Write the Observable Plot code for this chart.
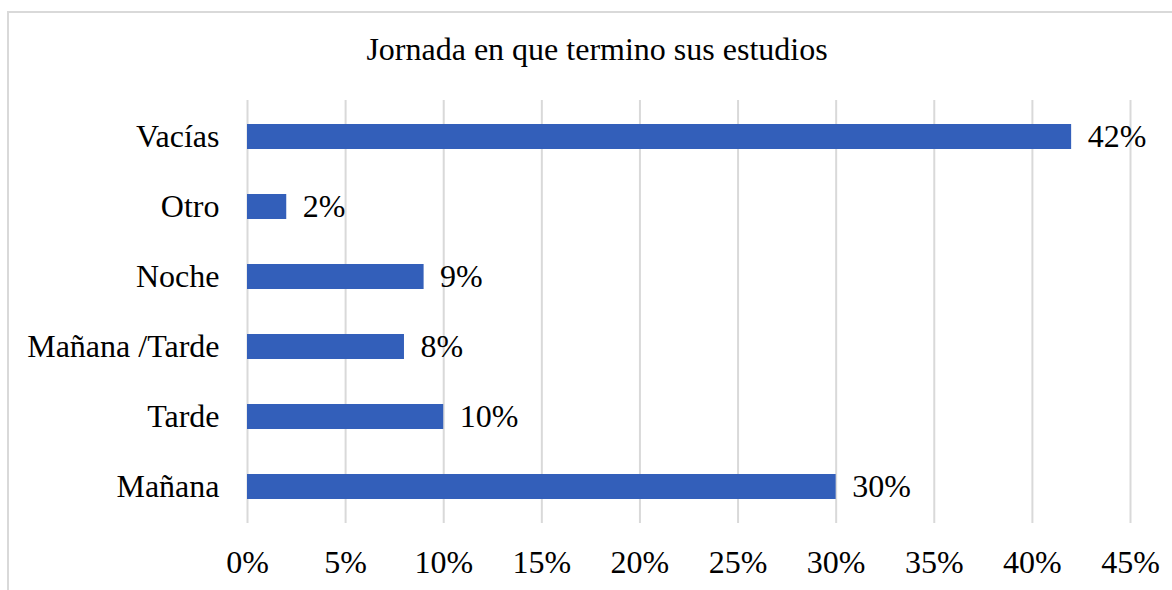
<!DOCTYPE html>
<html>
<head>
<meta charset="utf-8">
<script src="https://cdn.jsdelivr.net/npm/d3@7"></script>
<script src="https://cdn.jsdelivr.net/npm/@observablehq/plot@0.6"></script>
<style>
  html, body { margin: 0; padding: 0; background: #fff; overflow: hidden; }
  #wrap { position: relative; width: 1172px; height: 590px; }
  #border { position: absolute; left: 7px; top: 11px; width: 1200px; height: 600px; border: 2px solid #d9d9d9; box-sizing: border-box; }
  #title { position: absolute; left: 0; top: 33px; width: 1194px; text-align: center; font-family: "Liberation Serif", serif; font-size: 32px; line-height: 32px; color: #000; }
  #chart { position: absolute; left: 0; top: 0; }
</style>
</head>
<body>
<div id="wrap">
  <div id="border"></div>
  <div id="title">Jornada en que termino sus estudios</div>
  <div id="chart"></div>
</div>
<script>
const titleText = "Jornada en que termino sus estudios";
const categories = ["Vacías", "Otro", "Noche", "Mañana /Tarde", "Tarde", "Mañana"];
const values = [42, 2, 9, 8, 10, 30];
const xTicks = [0, 5, 10, 15, 20, 25, 30, 35, 40, 45];

const data = categories.map((c, i) => ({category: c, value: values[i]}));
const fmt = d => d + "%";
const barColor = "#335FBA";
const font = "Liberation Serif, serif";

const plot = Plot.plot({
  width: 1172,
  height: 590,
  marginLeft: 247,
  marginRight: 42,
  marginTop: 100,
  marginBottom: 67,
  style: {fontFamily: font, fontSize: "32px", color: "#000", background: "transparent", overflow: "visible"},
  x: {domain: [0, 45], ticks: xTicks, tickFormat: fmt},
  y: {domain: categories, paddingInner: 0.645, paddingOuter: 0.3225},
  marks: [
    Plot.gridX(xTicks, {stroke: "#d9d9d9", strokeOpacity: 1, strokeWidth: 2}),
    Plot.barX(data, {x: "value", y: "category", fill: barColor}),
    Plot.text(data, {x: "value", y: "category", text: d => fmt(d.value), textAnchor: "start", dx: 16, fill: "#000", fontSize: 32}),
    Plot.axisX({ticks: xTicks, tickFormat: fmt, tickSize: 0, tickPadding: 27, label: null, fontSize: 32}),
    Plot.axisY({tickSize: 0, tickPadding: 28, label: null, fontSize: 32})
  ]
});
document.getElementById("chart").appendChild(plot);
</script>
</body>
</html>
